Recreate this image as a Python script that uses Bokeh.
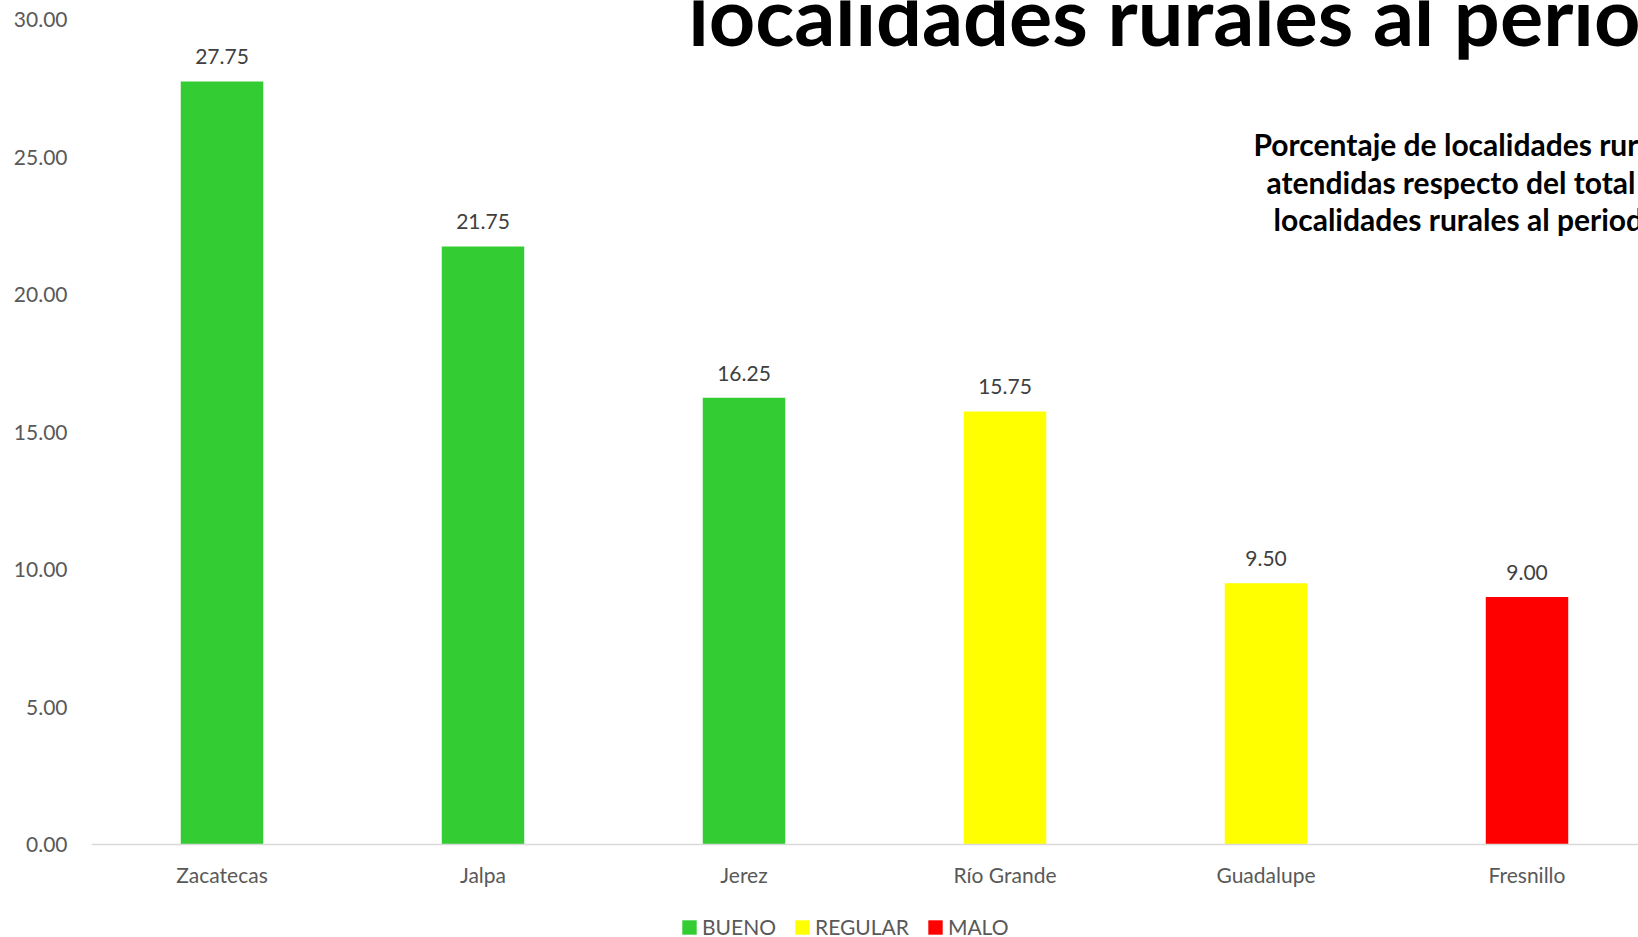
from bokeh.plotting import figure
from bokeh.models import (ColumnDataSource, Range1d, FixedTicker, LabelSet, Label,
                          NumeralTickFormatter, Legend, LegendItem)
from bokeh.core.properties import value
from bokeh.embed import file_html
from bokeh.resources import INLINE

# ---- data ----
municipios = ["Zacatecas", "Jalpa", "Jerez", "Río Grande", "Guadalupe", "Fresnillo"]
porcentajes = [27.75, 21.75, 16.25, 15.75, 9.50, 9.00]
estatus = ["BUENO", "BUENO", "BUENO", "REGULAR", "REGULAR", "MALO"]
estatus_orden = ["BUENO", "REGULAR", "MALO"]
estatus_colores = ["#33CC33", "#FFFF00", "#FF0000"]
y_ticks = [0, 5, 10, 15, 20, 25, 30]
titulo = "localidades rurales al periodo"
subtitulo = ["Porcentaje de localidades rurales",
             "atendidas respecto del total de",
             "localidades rurales al periodo"]

# ---- layout constants (figure pixel coords) ----
W, H = 1638, 937
FL = 91            # frame left
FB = 844           # pixel row of value 0
Y30 = 19           # pixel row of value 30
PX_PER_CAT = 261
X0 = -0.5
X1 = X0 + (W - FL) / PX_PER_CAT
PX_PER_UNIT = (FB - Y30) / 30.0
Y0 = -(H - FB) / PX_PER_UNIT   # frame reaches the bottom of the canvas
Y1 = 30 + Y30 / PX_PER_UNIT    # frame reaches the top of the canvas
FONT = "Lato"

def xd(px):
    return X0 + (px - FL) / PX_PER_CAT

def yd(py):
    return (FB - py) / PX_PER_UNIT

idx = list(range(len(municipios)))
cmap = dict(zip(estatus_orden, estatus_colores))
src = ColumnDataSource(dict(
    x=idx,
    top=porcentajes,
    estatus=estatus,
    color=[cmap[e] for e in estatus],
    label=[f"{v:.2f}" for v in porcentajes],
))

p = figure(width=W, height=H, x_range=Range1d(X0, X1), y_range=Range1d(Y0, Y1),
           output_backend="svg", toolbar_location=None,
           min_border_left=FL, min_border_right=0, min_border_top=0,
           min_border_bottom=0)
p.outline_line_color = None
p.grid.visible = False
p.background_fill_color = "white"
p.border_fill_color = "white"

bars = p.vbar(x="x", bottom=0, top="top", width=0.316, fill_color="color",
              line_color=None, source=src)

p.add_layout(LabelSet(x="x", y="top", text="label", source=src,
                      text_align="center", text_baseline="alphabetic", y_offset=17,
                      text_font=value(FONT), text_font_size="21px", text_color="#404040"))

# y axis
ya = p.yaxis[0]
ya.ticker = FixedTicker(ticks=y_ticks)
ya.formatter = NumeralTickFormatter(format="0.00")
ya.axis_line_color = None
ya.major_tick_line_color = None
ya.minor_tick_line_color = None
ya.major_label_standoff = 18
ya.major_label_text_font = FONT
ya.major_label_text_font_size = "21px"
ya.major_label_text_color = "#595959"

# x axis, drawn at value 0
xa = p.xaxis[0]
xa.fixed_location = 0
xa.ticker = FixedTicker(ticks=idx)
xa.major_label_overrides = {i: m for i, m in zip(idx, municipios)}
xa.axis_line_color = "#D9D9D9"
xa.axis_line_width = 1.5
xa.major_tick_line_color = None
xa.minor_tick_line_color = None
xa.major_tick_out = 0
xa.major_label_standoff = 17
xa.major_label_text_font = FONT
xa.major_label_text_font_size = "21px"
xa.major_label_text_color = "#595959"

# titles (Label rows are given as pixel rows, corrected for Label's baseline offset)
p.add_layout(Label(x=xd(688), y=yd(14), text=titulo, text_font=FONT,
                   text_font_style="bold", text_font_size="81px",
                   text_baseline="alphabetic", text_align="left", text_color="black"))
for (px, py), line in zip([(1253, 143), (1266, 181), (1273, 218)], subtitulo):
    p.add_layout(Label(x=xd(px), y=yd(py), text=line, text_font=FONT,
                       text_font_style="bold", text_font_size="30px",
                       text_baseline="alphabetic", text_align="left", text_color="black"))

# legend
items = [LegendItem(label=s, renderers=[bars], index=estatus.index(s)) for s in estatus_orden]
leg = Legend(items=items, orientation="horizontal", location=(589, -2),
             padding=0, margin=0, spacing=17, label_standoff=4,
             glyph_width=18, glyph_height=18, label_height=20,
             label_text_font=FONT, label_text_font_size="21px",
             label_text_color="#595959", border_line_color=None,
             background_fill_alpha=0)
p.add_layout(leg)

open("out.html", "w").write(file_html(p, INLINE))
